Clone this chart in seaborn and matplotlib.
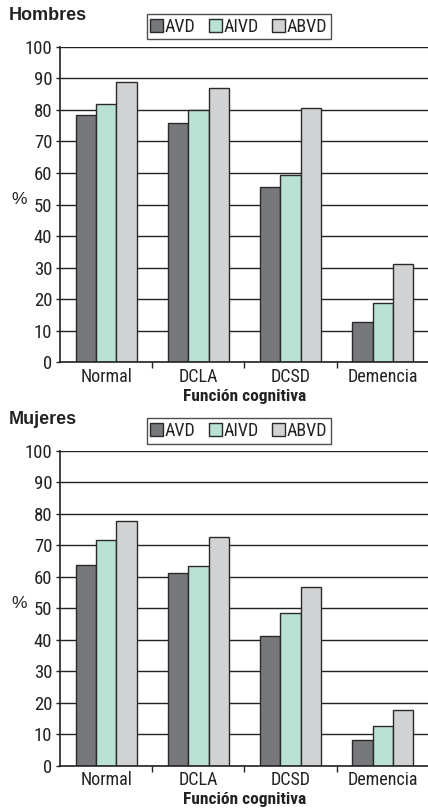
import matplotlib
matplotlib.use("Agg")
import matplotlib.pyplot as plt
import seaborn as sns
import pandas as pd
from matplotlib.patches import Patch

categories = ["Normal", "DCLA", "DCSD", "Demencia"]
series = ["AVD", "AIVD", "ABVD"]

hombres_avd = [78.5, 75.8, 55.6, 12.7]
hombres_aivd = [81.9, 80.1, 59.2, 18.8]
hombres_abvd = [88.8, 87.0, 80.5, 31.1]

mujeres_avd = [63.8, 61.1, 41.1, 8.3]
mujeres_aivd = [71.5, 63.4, 48.4, 12.5]
mujeres_abvd = [77.6, 72.6, 56.8, 17.8]

yticks = list(range(0, 101, 10))
colors = ["#77787b", "#b9e2d5", "#d1d2d4"]
edge = "#2a2a2a"
ink = "#222222"

sns.set_theme(style="white")
plt.rcParams["font.family"] = ["Roboto Condensed", "DejaVu Sans"]

W, H = 428, 810
fig = plt.figure(figsize=(W / 100, H / 100), dpi=100)


def long_table(avd, aivd, abvd):
    rows = []
    for name, vals in zip(series, [avd, aivd, abvd]):
        for c, v in zip(categories, vals):
            rows.append({"cat": c, "serie": name, "val": v})
    return pd.DataFrame(rows)


def panel(top_px, bottom_px, title, legend_top_px, data):
    ax = fig.add_axes([60 / W, 1 - bottom_px / H, 369 / W, (bottom_px - top_px) / H])
    ax.set_axisbelow(True)
    sns.barplot(data=data, x="cat", y="val", hue="serie", order=categories,
                hue_order=series, palette=colors, saturation=1, width=0.66,
                edgecolor=edge, linewidth=1.0, legend=False, ax=ax)
    ax.set_xlim(-0.5, 3.5)
    ax.set_ylim(0, 100)
    ax.set_yticks(yticks)
    ax.set_yticklabels([str(t) for t in yticks], fontsize=13.5, color=ink)
    ax.yaxis.grid(True, color=ink, linewidth=1.0)
    ax.xaxis.grid(False)
    ax.set_xticks(range(len(categories)))
    ax.set_xticklabels(categories, fontsize=13, color=ink)
    ax.set_xticks([0.5, 1.5, 2.5], minor=True)
    ax.tick_params(axis="x", which="major", length=0, pad=4)
    ax.tick_params(axis="x", which="minor", length=4, width=1, color=ink,
                   direction="out", bottom=True)
    ax.tick_params(axis="y", which="major", length=3, width=1, color=ink,
                   direction="out", pad=2.5, left=True)
    for s in ["top", "right"]:
        ax.spines[s].set_visible(False)
    for s in ["left", "bottom"]:
        ax.spines[s].set_color(ink)
        ax.spines[s].set_linewidth(1.2)
    ax.set_xlabel("Función cognitiva", fontsize=12.5, fontweight="bold",
                  color=ink, labelpad=2)
    ax.set_ylabel("")
    ymid = (top_px + bottom_px) / 2 - 5
    fig.text(19 / W, 1 - ymid / H, "%", fontsize=12.5, color=ink,
             ha="center", va="center", family=["Liberation Sans", "DejaVu Sans"])
    fig.text(9 / W, 1 - (top_px - 31) / H, title, fontsize=13, fontweight="bold",
             color=ink, ha="left", va="center",
             family=["Liberation Sans", "DejaVu Sans"])
    handles = [Patch(facecolor=c, edgecolor=edge, linewidth=1.0) for c in colors]
    leg = fig.legend(handles, series, loc="upper left",
                     bbox_to_anchor=(146.7 / W, 1 - legend_top_px / H),
                     ncol=3, frameon=True, fancybox=False, edgecolor=ink,
                     fontsize=13, handlelength=0.7, handleheight=0.7,
                     handletextpad=0.1, columnspacing=0.75, borderpad=0.2,
                     borderaxespad=0)
    leg.get_frame().set_linewidth(1.0)
    for t in leg.get_texts():
        t.set_color(ink)
    return ax


panel(46.7, 362.3, "Hombres", 14,
      long_table(hombres_avd, hombres_aivd, hombres_abvd))
panel(450.7, 765.7, "Mujeres", 418.3,
      long_table(mujeres_avd, mujeres_aivd, mujeres_abvd))

fig.savefig("out.png", dpi=100)
